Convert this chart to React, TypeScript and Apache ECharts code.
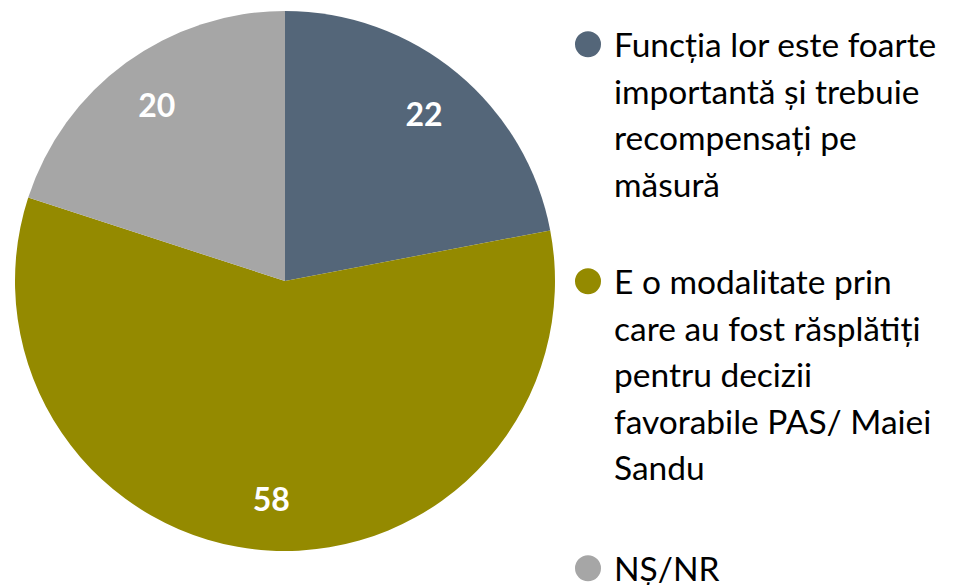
import React, { useEffect, useRef } from "react";
import * as echarts from "echarts";

const names = [
  "Funcția lor este foarte importantă și trebuie recompensați pe măsură",
  "E o modalitate prin care au fost răsplătiți pentru decizii favorabile PAS/ Maiei Sandu",
  "NȘ/NR",
];
const legendLines = [
  ["Funcția lor este foarte", "importantă și trebuie", "recompensați pe", "măsură"],
  ["E o modalitate prin", "care au fost răsplătiți", "pentru decizii", "favorabile PAS/ Maiei", "Sandu"],
  ["NȘ/NR"],
];
const values = [22, 58, 20];
const colors = ["#546679", "#948A00", "#A6A6A6"];

const LH = 46.5;
const legendTops = [16, 253, 540];

function iconFor(n: number) {
  const B = 26 + LH * (n - 1);
  return `path://M0,13A13,13,0,1,0,26,13A13,13,0,1,0,0,13ZM13,${B}L13,${B}Z`;
}

export default function App() {
  const ref = useRef<HTMLDivElement>(null);
  useEffect(() => {
    if (!ref.current) return;
    const chart = echarts.init(ref.current, undefined, { renderer: "svg" });
    const center = [285, 281];
    chart.setOption({
      animation: false,
      backgroundColor: "#ffffff",
      legend: names.map((n, i) => ({
        data: [n],
        left: 570,
        top: legendTops[i],
        orient: "vertical",
        icon: iconFor(legendLines[i].length),
        itemWidth: 42,
        itemHeight: 26 + LH * (legendLines[i].length - 1),
        itemStyle: { borderWidth: 0 },
        selectedMode: false,
        formatter: () => legendLines[i].join("\n"),
        textStyle: {
          fontFamily: "Lato",
          fontSize: 33.5,
          color: "#000",
          lineHeight: LH,
        },
      })),
      series: [
        {
          type: "pie",
          center,
          radius: [0, 270],
          startAngle: 90,
          clockwise: true,
          silent: true,
          label: { show: false },
          labelLine: { show: false },
          data: names.map((n, i) => ({
            name: n,
            value: values[i],
            itemStyle: { color: colors[i] },
          })),
        },
        {
          type: "pie",
          center,
          radius: [160, 270],
          startAngle: 90,
          clockwise: true,
          silent: true,
          itemStyle: { color: "transparent" },
          label: {
            show: true,
            position: "inside",
            formatter: "{c}",
            color: "#fff",
            fontFamily: "Lato",
            fontWeight: "bold",
            fontSize: 32,
          },
          labelLine: { show: false },
          data: names.map((n, i) => ({ name: "lbl" + i, value: values[i] })),
        },
      ],
    });
    return () => chart.dispose();
  }, []);
  return (
    <div
      ref={ref}
      style={{ position: "fixed", left: 0, top: 0, width: 955, height: 585 }}
    />
  );
}
